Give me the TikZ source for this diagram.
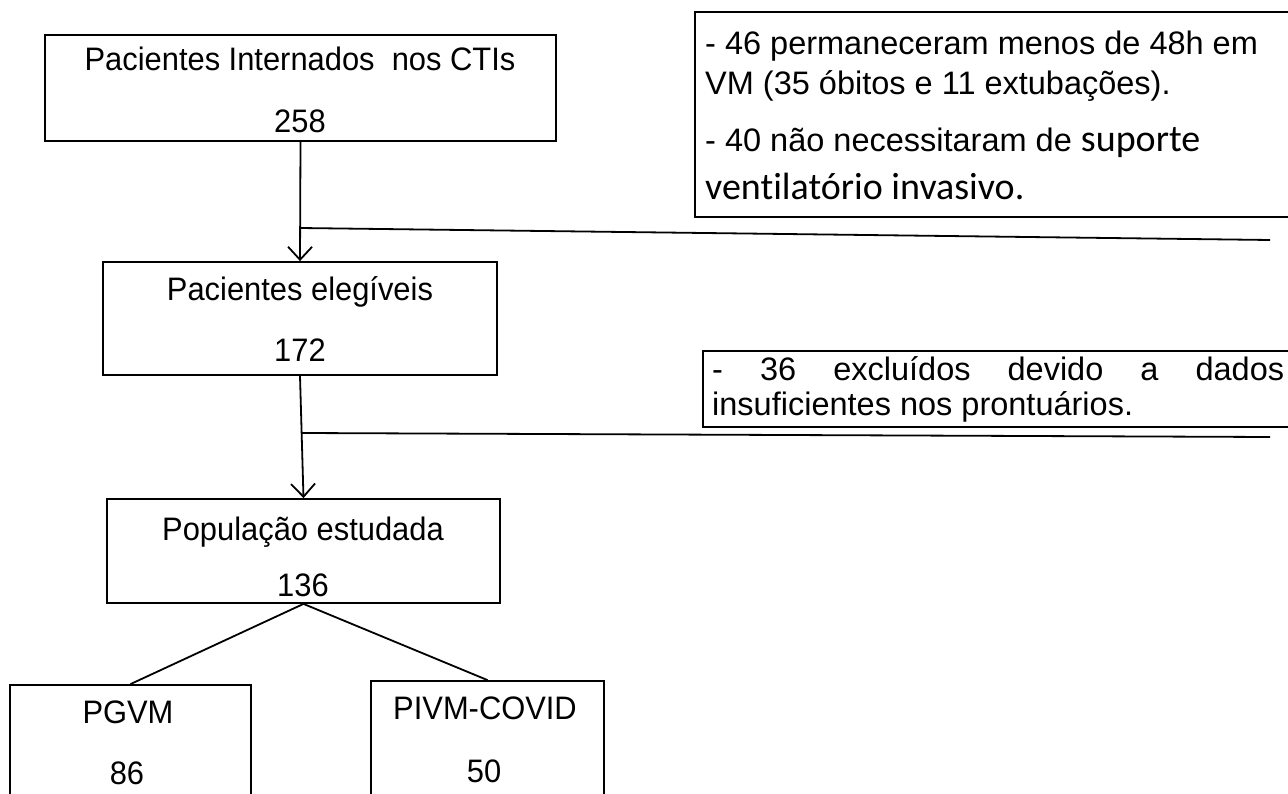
\documentclass[tikz,border=0pt]{standalone}
\usepackage{fontspec}
\setmainfont{Liberation Sans}
\newfontfamily\arialc[FakeStretch=0.95]{Liberation Sans}
\newfontfamily\calibri[Ligatures=NoCommon]{Carlito}
\usetikzlibrary{arrows.meta}
\begin{document}
\begin{tikzpicture}[x=1pt,y=-1pt,
  box/.style={draw, line width=1.8pt, inner sep=0pt},
  txt/.style={font=\arialc\fontsize{32.5}{38}\selectfont, inner sep=0pt, anchor=base},
  stxt/.style={font=\fontsize{32.5}{38}\selectfont, inner sep=0pt, anchor=base west},
  link/.style={line width=1.8pt},
  arr/.style={line width=1.8pt, -{Straight Barb[length=13pt,width=24pt,line width=1.8pt]}}]
\useasboundingbox (0,0) rectangle (1288,794);
% main boxes
\node[box, minimum width=511pt, minimum height=106pt] (b1) at (300.5,88) {};
\node[txt] (b1a) at (300,71) {Pacientes Internados\ \ nos CTIs};
\node[txt] (b1b) at (300,133) {258};
\node[box, minimum width=394pt, minimum height=113pt] (b2) at (300,318.5) {};
\node[txt] (b2a) at (300,301) {Pacientes elegíveis};
\node[txt] (b2b) at (300,361) {172};
\node[box, minimum width=393pt, minimum height=104pt] (b3) at (303.5,551) {};
\node[txt] (b3a) at (303,540) {População estudada};
\node[txt] (b3b) at (303,596) {136};
\node[box, minimum width=241pt, minimum height=140pt] (b4) at (130.5,755) {};
\node[txt] (b4a) at (128,723) {PGVM};
\node[txt] (b4b) at (127,784) {86};
\node[box, minimum width=233pt, minimum height=140pt] (b5) at (487.5,751) {};
\node[txt] (b5a) at (485,719) {PIVM-COVID};
\node[txt] (b5b) at (484,782) {50};
% side boxes
\node[box, minimum width=605pt, minimum height=205pt] (s1) at (997.5,114.5) {};
\node[stxt] (s1a) at (705,55) {- 46 permaneceram menos de 48h em};
\node[stxt] (s1b) at (705,95) {VM (35 óbitos e 11 extubações).};
\node[stxt] (s1c) at (705,152) {- 40 não necessitaram de {\calibri\fontsize{38}{44}\selectfont suporte}};
\node[stxt, font=\calibri\fontsize{38}{44}\selectfont] (s1d) at (705,200) {ventilatório invasivo.};
\node[box, minimum width=597pt, minimum height=76pt] (s2) at (1001.5,389) {};
\node[stxt, text width=572pt, align=left] (s2a) at (712,381) {-\hfill 36\hfill excluídos\hfill devido\hfill a\hfill dados};
\node[stxt] (s2b) at (712,415) {insuficientes nos prontuários.};
% connectors
\coordinate (j1) at (300,228);
\coordinate (e1) at (1270,240);
\coordinate (j2) at (302,433);
\coordinate (e2) at (1270,437);
\draw[arr] (b1.south) -- (b2.north);
\draw[link] (j1) -- (e1);
\draw[arr] (b2.south) -- (b3.north);
\draw[link] (j2) -- (e2);
\draw[link] (b3.south) -- (b4.north);
\draw[link] (b3.south) -- (b5.north);
\end{tikzpicture}
\end{document}
